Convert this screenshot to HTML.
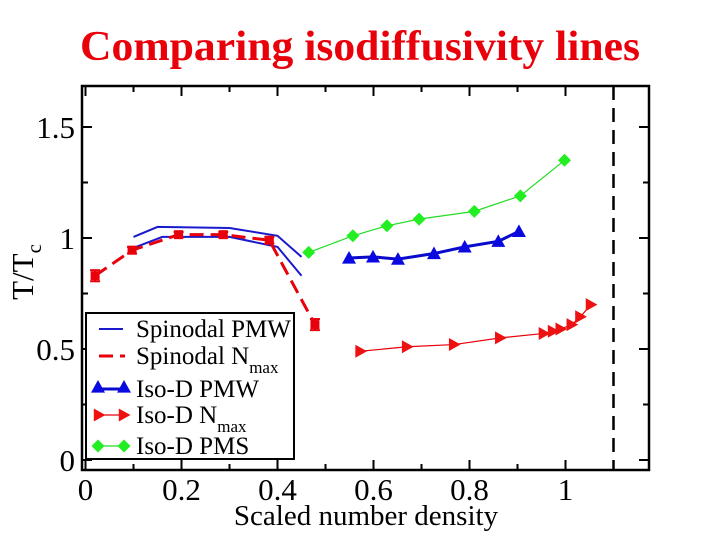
<!DOCTYPE html>
<html><head><meta charset="utf-8"><style>
body{margin:0;background:#fff;}
svg{display:block;font-family:"Liberation Serif",serif;}
</style></head><body>
<svg id="chart" width="720" height="540" viewBox="0 0 720 540" xmlns="http://www.w3.org/2000/svg">
<text x="80" y="60" font-size="42" font-weight="bold" fill="#e8000b" textLength="560" lengthAdjust="spacingAndGlyphs">Comparing isodiffusivity lines</text>
<g id="axes"></g>
<g id="series"></g>
<g id="legend"></g>
</svg>
<script>
const xTicks=[0,0.2,0.4,0.6,0.8,1];
const xTickLabels=["0","0.2","0.4","0.6","0.8","1"];
const yTicks=[0,0.5,1,1.5];
const yTickLabels=["0","0.5","1","1.5"];
const spinUpperX=[0.1,0.15,0.3,0.4,0.45];
const spinUpperY=[1.005,1.05,1.045,1.01,0.915];
const spinLowerX=[0.1,0.16,0.3,0.4,0.45];
const spinLowerY=[0.955,1.005,1.005,0.96,0.83];
const nmaxSpinX=[0.02,0.097,0.194,0.287,0.383,0.478];
const nmaxSpinY=[0.83,0.945,1.015,1.015,0.99,0.61];
const nmaxSpinErr=[0.025,0.015,0.012,0.012,0.015,0.025];
const isoPmwX=[0.549,0.599,0.651,0.726,0.79,0.86,0.903];
const isoPmwY=[0.91,0.915,0.905,0.93,0.96,0.985,1.03];
const isoNmaxX=[0.573,0.67,0.768,0.864,0.955,0.974,0.99,1.013,1.031,1.053];
const isoNmaxY=[0.49,0.51,0.52,0.55,0.57,0.58,0.59,0.61,0.645,0.70];
const isoPmsX=[0.465,0.557,0.628,0.695,0.81,0.906,0.998];
const isoPmsY=[0.935,1.01,1.055,1.085,1.12,1.19,1.35];
const vlineX=1.1;

const NS="http://www.w3.org/2000/svg";
const X0=85.5,XS=480,Y0=460,YS=222;
function sx(v){return X0+v*XS;}
function sy(v){return Y0-v*YS;}
function mk(tag,attrs,parent){const e=document.createElementNS(NS,tag);for(const k in attrs)e.setAttribute(k,attrs[k]);parent.appendChild(e);return e;}
const axes=document.getElementById('axes'),ser=document.getElementById('series'),leg=document.getElementById('legend');
const L=82,R=649,T=86,B=470;
const frame=mk('rect',{x:L,y:T,width:R-L,height:B-T,fill:'none',stroke:'#000','stroke-width':2.5},axes);


for(let v=0;v<=1.15;v+=0.1){const x=sx(v);const major=Math.abs(v*10%2)<0.01||Math.abs(v*10%2-2)<0.01;const len=major?10:6;
 mk('line',{x1:x,y1:B,x2:x,y2:B-len,stroke:'#000','stroke-width':2},axes);
 mk('line',{x1:x,y1:T,x2:x,y2:T+len,stroke:'#000','stroke-width':2},axes);}
for(let v=0;v<=1.6;v+=0.25){const y=sy(v);const major=Math.abs((v*2)%1)<0.01;const len=major?10:6;
 mk('line',{x1:L,y1:y,x2:L+len,y2:y,stroke:'#000','stroke-width':2},axes);
 mk('line',{x1:R,y1:y,x2:R-len,y2:y,stroke:'#000','stroke-width':2},axes);}
xTicks.forEach((v,i)=>{const t=mk('text',{x:sx(v),y:500,'font-size':31,'text-anchor':'middle'},axes);t.textContent=xTickLabels[i];
 
 });
yTicks.forEach((v,i)=>{const t=mk('text',{x:75,y:sy(v)+11,'font-size':31,'text-anchor':'end'},axes);t.textContent=yTickLabels[i];
 
 });
const xt=mk('text',{x:366,y:525,'font-size':29,'text-anchor':'middle'},axes);xt.textContent='Scaled number density';


const yt=mk('text',{transform:'translate(33,272) rotate(-90)','font-size':31,'text-anchor':'middle'},axes);
yt.innerHTML='T/T<tspan font-size="21" dy="8">c</tspan>';


const vl=mk('line',{x1:sx(vlineX),y1:T,x2:sx(vlineX),y2:B,stroke:'#000','stroke-width':2.5,'stroke-dasharray':'14,8'},ser);


function pts(xs,ys){return xs.map((x,i)=>sx(x)+','+sy(ys[i])).join(' ');}
let p=mk('polyline',{points:pts(spinUpperX,spinUpperY),fill:'none',stroke:'#1a1acc','stroke-width':2},ser);


p=mk('polyline',{points:pts(spinLowerX,spinLowerY),fill:'none',stroke:'#1a1acc','stroke-width':2},ser);


p=mk('polyline',{points:pts(nmaxSpinX,nmaxSpinY),fill:'none',stroke:'#e8000b','stroke-width':3,'stroke-dasharray':'14,7','stroke-linejoin':'round'},ser);


nmaxSpinX.forEach((x,i)=>{const cx=sx(x),cy=sy(nmaxSpinY[i]),e=nmaxSpinErr[i]*YS;
 const g=mk('g',{},ser);
 
 
 mk('line',{x1:cx,y1:cy-e,x2:cx,y2:cy+e,stroke:'#e8000b','stroke-width':2},g);
 mk('line',{x1:cx-5,y1:cy-e,x2:cx+5,y2:cy-e,stroke:'#e8000b','stroke-width':2},g);
 mk('line',{x1:cx-5,y1:cy+e,x2:cx+5,y2:cy+e,stroke:'#e8000b','stroke-width':2},g);
 mk('rect',{x:cx-4.5,y:cy-4.5,width:9,height:9,fill:'#e8000b'},g);});
function tri(cx,cy,s){return `${cx},${cy-s} ${cx-s},${cy+s*0.8} ${cx+s},${cy+s*0.8}`;}
function rtri(cx,cy,s){return `${cx+s},${cy} ${cx-s*0.8},${cy-s} ${cx-s*0.8},${cy+s}`;}
function dia(cx,cy,s){return `${cx},${cy-s} ${cx+s},${cy} ${cx},${cy+s} ${cx-s},${cy}`;}
p=mk('polyline',{points:pts(isoPmsX,isoPmsY),fill:'none',stroke:'#22dd22','stroke-width':1.2},ser);


isoPmsX.forEach((x,i)=>{const m=mk('polygon',{points:dia(sx(x),sy(isoPmsY[i]),6.5),fill:'#22ee22'},ser);
 
 });
p=mk('polyline',{points:pts(isoPmwX,isoPmwY),fill:'none',stroke:'#0a0acc','stroke-width':3},ser);


isoPmwX.forEach((x,i)=>{const m=mk('polygon',{points:tri(sx(x),sy(isoPmwY[i]),7),fill:'#0a0ae0'},ser);
 
 });
p=mk('polyline',{points:pts(isoNmaxX,isoNmaxY),fill:'none',stroke:'#e8000b','stroke-width':1.2},ser);


isoNmaxX.forEach((x,i)=>{const m=mk('polygon',{points:rtri(sx(x),sy(isoNmaxY[i]),6.5),fill:'#ee1111'},ser);
 
 });
// legend
const lb=mk('rect',{x:86,y:313,width:208,height:146,fill:'#fff',stroke:'#000','stroke-width':2},leg);


const entries=[['Spinodal PMW','',249],['Spinodal N','max',276],['Iso-D PMW','',309],['Iso-D N','max',335],['Iso-D PMS','',366]];
entries.forEach((e,i)=>{const y=e[2]+80;const g=mk('g',{},leg);
 
 
 const t=mk('text',{x:136,y:y+8,'font-size':25},g);t.innerHTML=e[0]+(e[1]?`<tspan font-size="17" dy="9">${e[1]}</tspan>`:'');
 const ly=y;
 if(i==0)mk('line',{x1:99,y1:ly,x2:123,y2:ly,stroke:'#1a1acc','stroke-width':2},g);
 if(i==1)mk('line',{x1:99,y1:ly,x2:125,y2:ly,stroke:'#e8000b','stroke-width':3,'stroke-dasharray':'14,7'},g);
 if(i==2){mk('line',{x1:98,y1:ly,x2:125,y2:ly,stroke:'#0a0acc','stroke-width':3},g);mk('polygon',{points:tri(98,ly-2,7)},g).setAttribute('fill','#0a0ae0');mk('polygon',{points:tri(124,ly-2,7)},g).setAttribute('fill','#0a0ae0');}
 if(i==3){mk('line',{x1:98,y1:ly,x2:125,y2:ly,stroke:'#e8000b','stroke-width':1.2},g);mk('polygon',{points:rtri(99,ly,6.5)},g).setAttribute('fill','#ee1111');mk('polygon',{points:rtri(124,ly,6.5)},g).setAttribute('fill','#ee1111');}
 if(i==4){mk('line',{x1:98,y1:ly,x2:125,y2:ly,stroke:'#22dd22','stroke-width':1.2},g);mk('polygon',{points:dia(98,ly,6.5)},g).setAttribute('fill','#22ee22');mk('polygon',{points:dia(124,ly,6.5)},g).setAttribute('fill','#22ee22');}
});
</script>
</body></html>
